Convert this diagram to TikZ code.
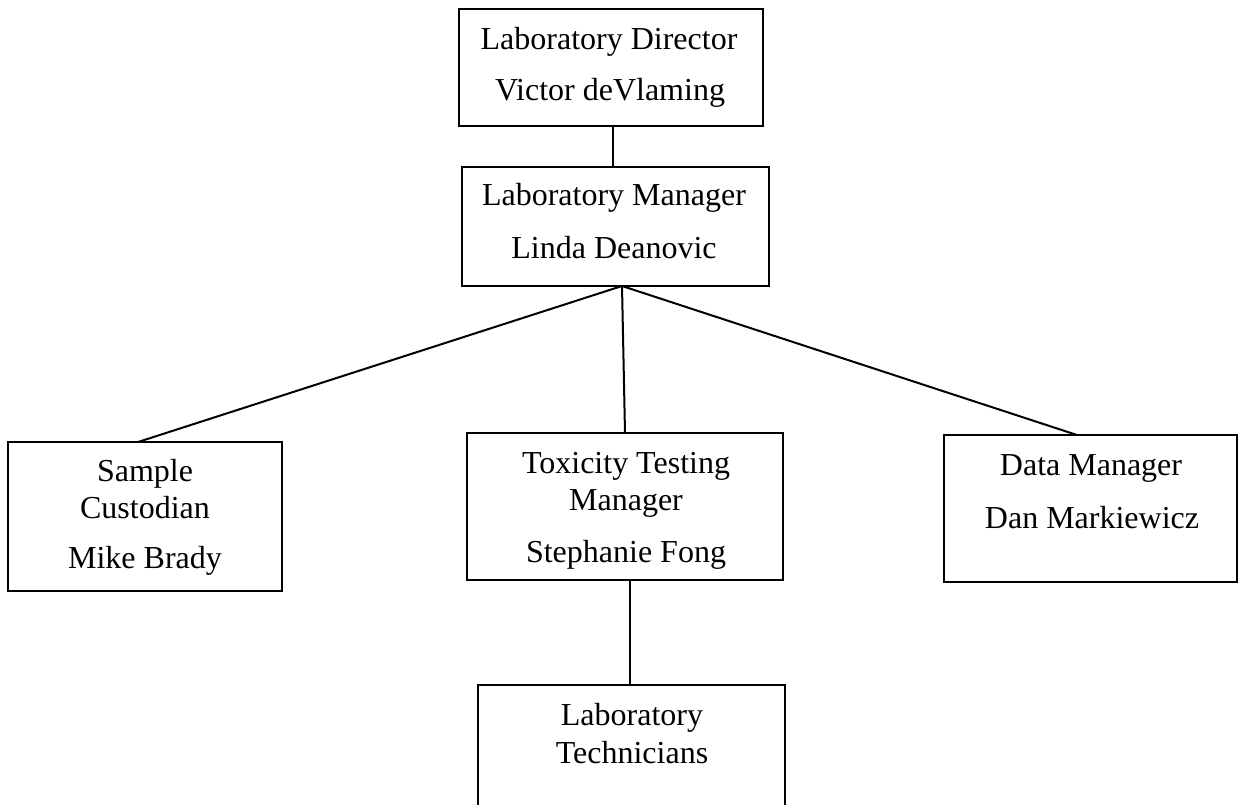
\documentclass[tikz,border=0pt]{standalone}
\usepackage{fontspec}
\setmainfont{Liberation Serif}
\begin{document}
\begin{tikzpicture}[x=0.5pt,y=-0.5pt,
  box/.style={draw=black,line width=1pt,inner sep=0pt,outer sep=0pt},
  lbl/.style={anchor=base,inner sep=0pt,font=\fontsize{16}{19}\selectfont},
  conn/.style={draw=black,line width=1pt}]
\useasboundingbox (0,0) rectangle (1240,804);
\clip (0,0) rectangle (1240,804);
% boxes
\node[box,minimum width=304pt*0.5,minimum height=117pt*0.5] (dir) at (611,67.5) {};
\node[box,minimum width=307pt*0.5,minimum height=119pt*0.5] (mgr) at (615.5,226.5) {};
\node[box,minimum width=274pt*0.5,minimum height=149pt*0.5] (samp) at (145,516.5) {};
\node[box,minimum width=316pt*0.5,minimum height=147pt*0.5] (tox) at (625,506.5) {};
\node[box,minimum width=293pt*0.5,minimum height=147pt*0.5] (data) at (1090.5,508.5) {};
\node[box,minimum width=307pt*0.5,minimum height=140pt*0.5] (tech) at (631.5,755) {};
% texts
\node[lbl] (t1a) at (609,49) {Laboratory Director};
\node[lbl] (t1b) at (610,100) {Victor deVlaming};
\node[lbl] (t2a) at (614,205) {Laboratory Manager};
\node[lbl] (t2b) at (614,258) {Linda Deanovic};
\node[lbl] (t3a) at (145,481) {Sample};
\node[lbl] (t3b) at (145,518) {Custodian};
\node[lbl] (t3c) at (145,568) {Mike Brady};
\node[lbl] (t4a) at (626,473) {Toxicity Testing};
\node[lbl] (t4b) at (626,510) {Manager};
\node[lbl] (t4c) at (626,562) {Stephanie Fong};
\node[lbl] (t5a) at (1091,475) {Data Manager};
\node[lbl] (t5b) at (1092,528) {Dan Markiewicz};
\node[lbl] (t6a) at (632,725) {Laboratory};
\node[lbl] (t6b) at (632,763) {Technicians};
% connectors
\coordinate (apex) at (622,286);
\draw[conn] (dir.south -| 613,0) -- (mgr.north -| 613,0);
\draw[conn] (apex) -- (samp.north -| 138,0);
\draw[conn] (apex) -- (tox.north -| 625,0);
\draw[conn] (apex) -- (data.north -| 1077,0);
\draw[conn] (tox.south -| 630,0) -- (tech.north -| 630,0);
\end{tikzpicture}
\end{document}
